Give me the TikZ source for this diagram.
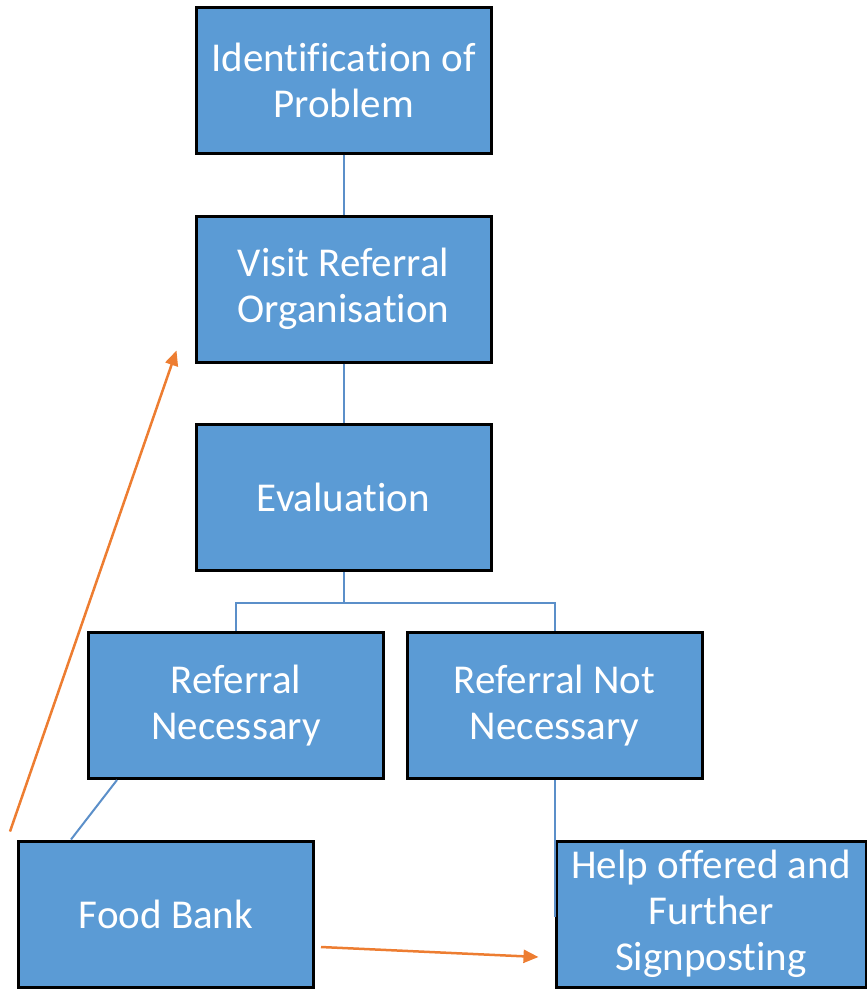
\documentclass[tikz,border=0pt]{standalone}
\usepackage{fontspec}
\setmainfont{Carlito}[RawFeature={-liga;-clig;-calt;-dlig}]
\usetikzlibrary{arrows.meta,calc}
\definecolor{boxblue}{HTML}{5B9BD5}
\definecolor{lineblue}{HTML}{5B8FC9}
\definecolor{arrorange}{HTML}{ED7D31}
\begin{document}
\begin{tikzpicture}[x=1pt,y=-1pt,
  box/.style={draw=black, line width=3pt, fill=boxblue, text=white, inner sep=0pt,
    align=center, font=\fontsize{41}{46}\selectfont},
  wide/.style={minimum width=295pt, minimum height=146pt},
  conn/.style={draw=lineblue, line width=2pt},
  oarrow/.style={draw=arrorange, line width=2.5pt, -{Triangle[length=15pt,width=13pt]}}]
\useasboundingbox (0,0) rectangle (867,989);
\node[box,wide] (b1) at (343.5,80) {Identification of\\Problem};
\node[box,wide] (b2) at (343.5,289) {Visit Referral\\Organisation};
\node[box,wide] (b3) at (343.5,497.5) {Evaluation};
\node[box,wide] (b4) at (236,705.5) {Referral\\Necessary};
\node[box,wide] (b5) at (554.5,705.5) {Referral Not\\Necessary};
\node[box,wide] (food) at (166,914) {Food Bank};
\node[box,minimum width=310pt, minimum height=146pt] (help) at (711,914) {Help offered and\\Further\\Signposting};
\draw[conn] (b1.south) -- (b2.north);
\draw[conn] (b2.south) -- (b3.north);
\draw[conn] (b3.south) -- ++(0,31) coordinate (split) -| (b4.north);
\draw[conn] (split) -| (b5.north);
\draw[conn] ($(b4.south west)+(30,0)$) -- ($(food.north west)+(54,0)$);
\coordinate (hl) at ($(b5.south)+(0,137)$);
\draw[conn] (b5.south) -- (hl);
\coordinate (ostart) at ($(food.north west)+(-7,-8)$);
\coordinate (oend) at ($(b2.south west)+(-18,-13)$);
\draw[oarrow] (ostart) -- (oend);
\draw[oarrow] ($(food.east)+(6,33)$) -- ($(help.west)+(-16,43)$);
\end{tikzpicture}
\end{document}
